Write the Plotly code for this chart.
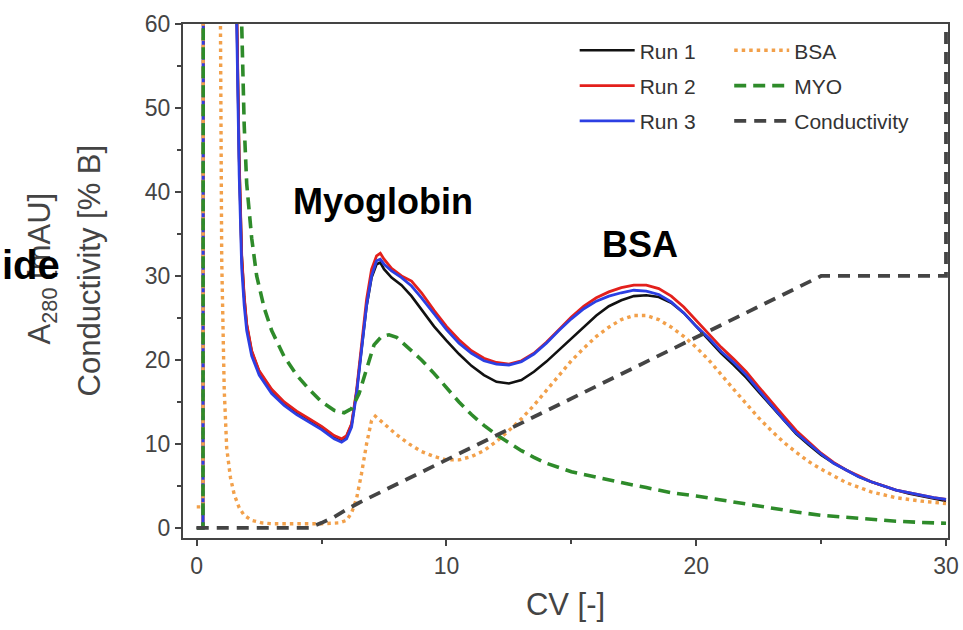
import plotly.graph_objects as go

# ---- chromatogram data (column volumes vs. A280 / conductivity) ----
cv_run = [0, 0.25, 0.3, 1.5, 1.6, 1.7, 1.8, 1.9, 2.0, 2.2, 2.5, 3.0, 3.5, 4.0, 4.5,
          5.0, 5.5, 5.8, 6.0, 6.2, 6.4, 6.6, 6.8, 7.0, 7.2, 7.35, 7.5, 7.8, 8.2,
          8.6, 9.0, 9.5, 10.0, 10.5, 11.0, 11.5, 12.0, 12.5, 13.0, 13.5, 14.0,
          14.5, 15.0, 15.5, 16.0, 16.5, 17.0, 17.5, 18.0, 18.5, 19.0, 19.5, 20.0,
          20.5, 21.0, 21.5, 22.0, 22.5, 23.0, 23.5, 24.0, 24.5, 25.0, 25.5, 26.0,
          26.5, 27.0, 27.5, 28.0, 28.5, 29.0, 29.5, 30.0]

run1 = [0, 0, 300, 300, 62, 44, 32.5, 27.5, 24.2, 21.0, 18.6, 16.4, 14.9, 13.8, 12.9,
        12.0, 10.9, 10.5, 10.9, 12.3, 16.2, 21.6, 26.4, 29.8, 31.4, 31.6, 30.8, 29.8, 28.9,
        27.6, 26.0, 24.0, 22.3, 20.7, 19.3, 18.2, 17.4, 17.2, 17.6, 18.6, 19.8,
        21.2, 22.6, 24.0, 25.3, 26.4, 27.1, 27.6, 27.7, 27.5, 26.8, 25.6, 24.0,
        22.4, 20.8, 19.4, 17.9, 16.2, 14.5, 12.8, 11.2, 9.9, 8.7, 7.7, 6.9,
        6.1, 5.5, 5.0, 4.5, 4.1, 3.8, 3.5, 3.2]

run2 = [0, 0, 300, 300, 62, 44, 32.5, 27.6, 24.3, 21.1, 18.7, 16.5, 15.0, 13.9, 13.0,
        12.1, 11.0, 10.6, 11.0, 12.4, 16.4, 22.0, 27.2, 30.8, 32.4, 32.7, 32.0, 30.9, 30.0,
        29.4, 28.0, 25.9, 24.0, 22.4, 21.1, 20.2, 19.7, 19.5, 19.9, 20.8, 22.1,
        23.6, 25.1, 26.4, 27.4, 28.1, 28.6, 28.9, 28.9, 28.5, 27.6, 26.3, 24.7,
        23.1, 21.5, 20.1, 18.6, 16.8, 15.0, 13.3, 11.6, 10.2, 8.9, 7.8, 6.9,
        6.2, 5.5, 5.0, 4.5, 4.2, 3.9, 3.6, 3.4]

run3 = [0, 0, 300, 300, 60, 42, 31.0, 26.5, 23.5, 20.5, 18.2, 16.0, 14.6, 13.5, 12.6,
        11.7, 10.6, 10.2, 10.6, 12.0, 16.0, 21.5, 26.5, 30.0, 31.8, 32.0, 31.4, 30.6, 29.8,
        28.8, 27.4, 25.5, 23.6, 22.0, 20.8, 19.9, 19.5, 19.4, 19.8, 20.7, 22.0,
        23.5, 24.9, 26.1, 27.0, 27.6, 28.0, 28.3, 28.2, 27.8, 26.9, 25.6, 24.0,
        22.6, 21.0, 19.7, 18.2, 16.4, 14.6, 12.9, 11.3, 10.0, 8.8, 7.7, 6.9,
        6.1, 5.5, 5.0, 4.5, 4.2, 3.9, 3.6, 3.4]

# simulated single-component traces
cv_bsa = [0, 0.25, 0.3, 0.9, 0.95, 1.0, 1.1, 1.2, 1.35, 1.5, 1.7, 1.9, 2.2, 2.6,
          3.0, 4.0, 5.0, 5.7, 6.0, 6.2, 6.4, 6.6, 6.8, 7.0, 7.15, 7.5, 8.0, 8.5,
          9.0, 9.5, 10.0, 10.5, 11.0, 11.5, 12.0, 12.5, 13.0, 13.5, 14.0, 14.5,
          15.0, 15.5, 16.0, 16.5, 17.0, 17.5, 18.0, 18.5, 19.0, 19.5, 20.0, 20.5,
          21.0, 21.5, 22.0, 22.5, 23.0, 23.5, 24.0, 24.5, 25.0, 26.0, 27.0, 28.0,
          29.0, 30.0]
bsa = [2.5, 2.5, 300, 300, 60, 32, 16.5, 9.5, 6.0, 4.0, 2.4, 1.5, 0.9, 0.6,
       0.5, 0.45, 0.5, 0.6, 0.9, 1.8, 3.5, 6.5, 10.0, 12.8, 13.3, 12.4, 11.1, 10.0,
       9.1, 8.5, 8.1, 8.1, 8.5, 9.2, 10.3, 11.6, 13.0, 14.6, 16.4, 18.2,
       19.9, 21.4, 22.8, 23.9, 24.8, 25.3, 25.3, 24.8, 23.9, 22.8, 21.5, 20.0,
       18.2, 16.5, 14.8, 13.1, 11.6, 10.2, 9.0, 7.9, 7.0, 5.4, 4.3, 3.6,
       3.2, 2.9]

cv_myo = [0, 0.25, 0.3, 1.7, 1.8, 1.9, 2.0, 2.2, 2.4, 2.7, 3.0, 3.5, 4.0, 4.5,
          5.0, 5.5, 5.9, 6.2, 6.5, 6.8, 7.1, 7.4, 7.7, 8.0, 8.5, 9.0, 9.5, 10.0,
          10.5, 11.0, 11.5, 12.0, 12.5, 13.0, 13.5, 14.0, 15.0, 16.0, 17.0, 18.0,
          19.0, 20.0, 21.0, 22.0, 23.0, 24.0, 25.0, 26.0, 27.0, 28.0, 29.0, 30.0]
myo = [0, 0, 300, 300, 60, 48, 41, 34.5, 30.0, 26.2, 23.5, 20.4, 18.2, 16.5,
       15.0, 14.0, 13.7, 14.2, 16.0, 19.0, 21.8, 22.8, 23.0, 22.7, 21.4, 20.0, 18.4, 16.7,
       15.0, 13.5, 12.2, 11.1, 10.1, 9.2, 8.4, 7.7, 6.7, 6.0, 5.4, 4.8,
       4.2, 3.8, 3.3, 2.8, 2.3, 1.9, 1.5, 1.25, 1.0, 0.8, 0.65, 0.55]

# gradient programme (% B)
cv_cond = [0, 4.5, 5.0, 5.5, 6.0, 6.5, 25.0, 30.0, 30.0]
cond = [0, 0, 0.6, 1.3, 2.2, 3.0, 30.0, 30.0, 100.0]

fig = go.Figure()

for name, ys, col, w in [("Run 1", run1, "#111111", 2.6),
                         ("Run 2", run2, "#E3201C", 2.8),
                         ("Run 3", run3, "#2C3FE3", 2.8)]:
    fig.add_trace(go.Scatter(x=cv_run, y=ys, mode="lines", name=name,
                             line=dict(color=col, width=w),
                             legend="legend", legendgroup=name))

fig.add_trace(go.Scatter(x=cv_bsa, y=bsa, mode="lines", name="BSA",
                         line=dict(color="#F2A04A", width=3.4, dash="3.5px,4px"),
                         legend="legend2", legendgroup="BSA"))
fig.add_trace(go.Scatter(x=cv_myo, y=myo, mode="lines", name="MYO",
                         line=dict(color="#2E8B2A", width=3.6, dash="12px,7px"),
                         legend="legend2", legendgroup="MYO"))
fig.add_trace(go.Scatter(x=cv_cond, y=cond, mode="lines", name="Conductivity",
                         line=dict(color="#444444", width=3.8, dash="12px,8px"),
                         legend="legend2", legendgroup="Conductivity"))

axis_common = dict(showline=True, linecolor="#444444", linewidth=2, mirror=True,
                   ticks="outside", ticklen=6, tickwidth=1.5, tickcolor="#444444",
                   showgrid=False, zeroline=False, automargin=False,
                   tickfont=dict(family="Liberation Sans, Arial", size=23, color="#444444"))

fig.update_xaxes(range=[-0.55, 30.08], tick0=0, dtick=10,
                 minor=dict(dtick=5, ticks="outside", ticklen=4, tickcolor="#444444"),
                 title=dict(text="CV [-]", standoff=16,
                            font=dict(family="Liberation Sans, Arial", size=31, color="#444444")),
                 **axis_common)
fig.update_yaxes(range=[-1.2, 60], tick0=0, dtick=10,
                 minor=dict(dtick=5, ticks="outside", ticklen=4, tickcolor="#444444"),
                 **axis_common)

legend_font = dict(family="Liberation Sans, Arial", size=21, color="#333333")
fig.update_layout(
    width=963, height=630,
    margin=dict(l=183, r=15, t=24, b=92, autoexpand=False),
    paper_bgcolor="white", plot_bgcolor="white",
    showlegend=True,
    legend=dict(x=0.512, y=0.988, xanchor="left", yanchor="top", bgcolor="rgba(0,0,0,0)",
                font=legend_font, tracegroupgap=5, itemwidth=55),
    legend2=dict(x=0.714, y=0.988, xanchor="left", yanchor="top", bgcolor="rgba(0,0,0,0)",
                 font=legend_font, tracegroupgap=5, itemwidth=55),
)

label_font = dict(family="Liberation Sans, Arial", size=36, color="black")
fig.add_annotation(x=7.44, y=38.9, xref="x", yref="y", text="<b>Myoglobin</b>",
                   showarrow=False, font=label_font)
fig.add_annotation(x=17.76, y=33.7, xref="x", yref="y", text="<b>BSA</b>",
                   showarrow=False, font=label_font)

# y-axis title, two lines
title_font = dict(family="Liberation Sans, Arial", size=31, color="#444444")
fig.add_annotation(x=-0.184, y=0.525, xref="paper", yref="paper", xanchor="center",
                   yanchor="middle", text="A<sub>280</sub> [mAU]", textangle=-90,
                   showarrow=False, font=title_font)
fig.add_annotation(x=-0.122, y=0.52, xref="paper", yref="paper", xanchor="center",
                   yanchor="middle", text="Conductivity [% B]", textangle=-90,
                   showarrow=False, font=title_font)
fig.add_annotation(x=-0.158, y=0.531, xref="paper", yref="paper", xanchor="right",
                   text="<b>ide</b>", showarrow=False,
                   font=dict(family="Liberation Sans, Arial", size=40, color="black"))

fig.write_html("out.html")
